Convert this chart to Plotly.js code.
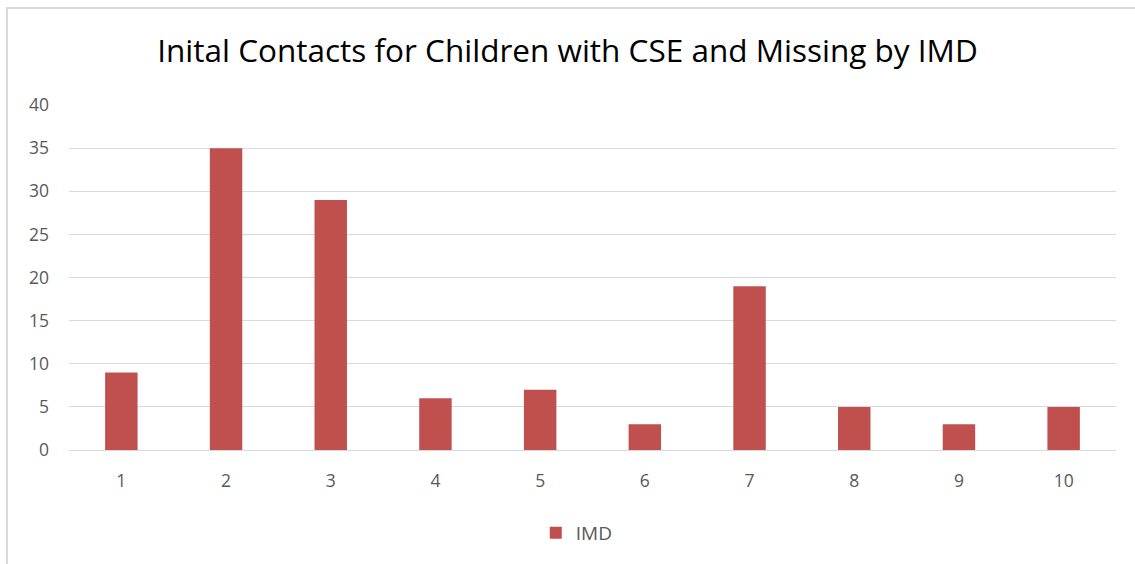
<!DOCTYPE html>
<html>
<head>
<meta charset="utf-8">
<script src="https://cdn.plot.ly/plotly-3.0.1.min.js"></script>
<style>
html, body { margin:0; padding:0; width:1135px; height:564px; overflow:hidden; background:#fff; }
#chart { position:absolute; left:0; top:0; width:1135px; height:564px; }
#frame { position:absolute; left:6px; top:7px; width:1300px; height:700px; border:2px solid #d9d9d9; pointer-events:none; box-sizing:border-box; }
</style>
</head>
<body>
<div id="chart"></div>
<div id="frame"></div>
<script>
const categories = ["1","2","3","4","5","6","7","8","9","10"];
const imdValues = [9, 35, 29, 6, 7, 3, 19, 5, 3, 5];
const yTicks = [0, 5, 10, 15, 20, 25, 30, 35, 40];
const seriesName = "IMD";
const chartTitle = "Inital Contacts for Children with CSE and Missing by IMD";

const trace = {
  type: "bar",
  x: categories,
  y: imdValues,
  name: seriesName,
  marker: { color: "#c0504d" },
  hoverinfo: "x+y"
};

const layout = {
  width: 1135,
  height: 564,
  paper_bgcolor: "rgba(0,0,0,0)",
  plot_bgcolor: "#fff",
  margin: { l: 69, r: 19, t: 105, b: 114 },
  title: {
    text: chartTitle,
    font: { family: "Open Sans, sans-serif", size: 31.5, color: "#000" },
    x: 0.5, xanchor: "center",
    y: 0.91, yanchor: "middle"
  },
  bargap: 0.69,
  showlegend: true,
  legend: {
    orientation: "h",
    x: 0.485, xanchor: "center",
    y: -0.185, yanchor: "top",
    font: { family: "Open Sans, sans-serif", size: 19, color: "#595959" },
    itemwidth: 30
  },
  xaxis: {
    type: "category",
    tickfont: { family: "Open Sans, sans-serif", size: 17.5, color: "#595959" },
    showgrid: false,
    showline: true,
    linecolor: "#d9d9d9",
    linewidth: 1,
    ticks: "",
    ticklabelstandoff: 15
  },
  yaxis: {
    range: [0, 40],
    tickvals: yTicks,
    ticktext: yTicks.map(String),
    tickfont: { family: "Open Sans, sans-serif", size: 17.5, color: "#595959" },
    showgrid: true,
    gridcolor: "#d9d9d9",
    gridwidth: 1,
    zeroline: false,
    showline: false,
    ticks: "",
    ticklabelstandoff: 19
  }
};

Plotly.newPlot("chart", [trace], layout, { displayModeBar: false, staticPlot: false });
</script>
</body>
</html>
